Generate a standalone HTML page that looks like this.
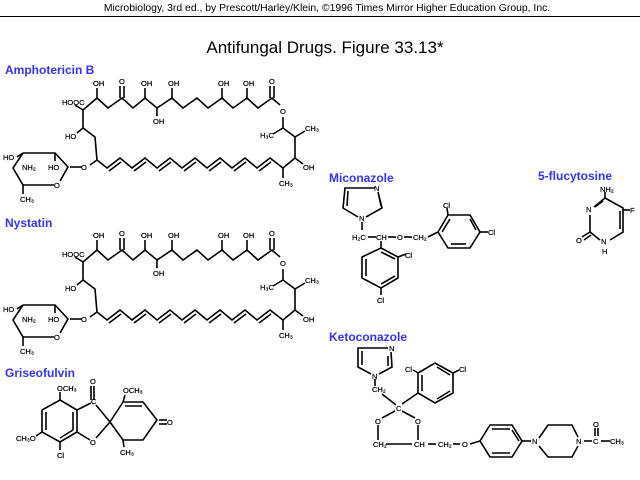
<!DOCTYPE html>
<html><head><meta charset="utf-8"><style>
html,body{margin:0;padding:0;background:#fff;}
svg{display:block;}
.l{font-family:"Liberation Sans",sans-serif;font-size:7.5px;fill:#000;stroke:#000;stroke-width:0.2px;}
.t{font-family:"Liberation Sans",sans-serif;font-weight:bold;font-size:12px;fill:#3333ff;}
</style></head><body>
<svg width="640" height="480" viewBox="0 0 640 480" xmlns="http://www.w3.org/2000/svg">
<text x="327" y="11" text-anchor="middle" font-family="Liberation Sans,sans-serif" font-size="10.4">Microbiology, 3rd ed., by Prescott/Harley/Klein, ©1996 Times Mirror Higher Education Group, Inc.</text>
<line x1="0" y1="16.5" x2="640" y2="16.5" stroke="#000" stroke-width="1"/>
<text x="325" y="53" text-anchor="middle" font-family="Liberation Sans,sans-serif" font-size="17">Antifungal Drugs.  Figure 33.13*</text>

<text class="t" x="5" y="74">Amphotericin B</text>
<text class="t" x="5" y="227">Nystatin</text>
<text class="t" x="5" y="377">Griseofulvin</text>
<text class="t" x="329" y="182">Miconazole</text>
<text class="t" x="538" y="180">5-flucytosine</text>
<text class="t" x="329" y="341">Ketoconazole</text>

<defs>
<g id="mac" fill="none" stroke="#000" stroke-width="1.6">
<polyline points="83,110 97,98 108,108 122,98 133,108 145,98 157,108 172,98 183,108 197,98 208,108 222,98 233,108 247,98 258,108 272,98 280,105"/>
<line x1="97" y1="98" x2="97" y2="88"/><line x1="120" y1="98" x2="120" y2="86"/><line x1="124" y1="98" x2="124" y2="86"/>
<line x1="145" y1="98" x2="145" y2="88"/><line x1="172" y1="98" x2="172" y2="88"/><line x1="157" y1="108" x2="157" y2="116"/>
<line x1="222" y1="98" x2="222" y2="88"/><line x1="247" y1="98" x2="247" y2="88"/>
<line x1="270" y1="98" x2="270" y2="86"/><line x1="274" y1="98" x2="274" y2="86"/>
<polyline points="283,117 283,128 295,137 295,158 283,168"/>
<line x1="283" y1="128" x2="273" y2="134"/><line x1="295" y1="137" x2="305" y2="131"/>
<line x1="295" y1="158" x2="303" y2="164"/><line x1="283" y1="168" x2="283" y2="178"/>
<line x1="83" y1="110" x2="75" y2="105"/>
<polyline points="83,110 83,128 95,137 97,160"/>
<line x1="83" y1="128" x2="77" y2="133"/>
<line x1="97" y1="160" x2="90" y2="165"/>
<line x1="82" y1="167" x2="70" y2="167"/>
<polyline points="97,160 107,168 120,158 132,168 145,158 157,168 170,158 182,168 195,158 207,168 220,158 232,168 245,158 257,168 270,158 283,168"/>
<line x1="109" y1="171" x2="121" y2="162"/><line x1="134" y1="171" x2="146" y2="162"/><line x1="159" y1="171" x2="171" y2="162"/>
<line x1="184" y1="171" x2="196" y2="162"/><line x1="209" y1="171" x2="221" y2="162"/><line x1="234" y1="171" x2="246" y2="162"/><line x1="259" y1="171" x2="271" y2="162"/>
<polyline points="23,153 55,153 68,167 60,181"/><polyline points="54,185 23,185 13,168 23,153"/>
<line x1="23" y1="153" x2="17" y2="157"/><line x1="23" y1="185" x2="23" y2="194"/><line x1="55" y1="153" x2="55" y2="161"/>
</g>
<g id="macl">
<text class="l" x="62" y="105">HOOC</text>
<text class="l" x="93" y="86">OH</text><text class="l" x="119" y="84">O</text><text class="l" x="141" y="86">OH</text>
<text class="l" x="168" y="86">OH</text><text class="l" x="153" y="124">OH</text><text class="l" x="218" y="86">OH</text>
<text class="l" x="243" y="86">OH</text><text class="l" x="269" y="84">O</text><text class="l" x="280" y="114">O</text>
<text class="l" x="260" y="138">H₃C</text><text class="l" x="305" y="131">CH₃</text><text class="l" x="303" y="170">OH</text>
<text class="l" x="279" y="186">CH₃</text><text class="l" x="65" y="139">HO</text><text class="l" x="81" y="170">O</text>
<text class="l" x="3" y="160">HO</text><text class="l" x="22" y="170">NH₂</text><text class="l" x="48" y="170">HO</text>
<text class="l" x="54" y="188">O</text><text class="l" x="20" y="202">CH₃</text>
</g>
</defs>
<use href="#mac"/><use href="#macl"/>
<g transform="translate(0,152)"><use href="#mac"/><use href="#macl"/></g>

<g fill="none" stroke="#000" stroke-width="1.6">
<polyline points="375,188 345,188 343,208 358,217"/><polyline points="366,217 382,208 378,192"/>
<line x1="348" y1="191" x2="347" y2="206"/><line x1="379" y1="196" x2="381" y2="206"/>
<line x1="362" y1="222" x2="362" y2="230"/>
<line x1="368" y1="237" x2="376" y2="237"/><line x1="388" y1="237" x2="396" y2="237"/><line x1="404" y1="237" x2="412" y2="237"/>
<line x1="428" y1="237" x2="438" y2="232"/>
<polygon points="438,232 448,215 470,215 480,232 470,248 448,248"/>
<line x1="450" y1="219" x2="442" y2="232"/><line x1="470" y1="219" x2="476" y2="230"/><line x1="466" y1="244" x2="451" y2="244"/>
<line x1="448" y1="215" x2="447" y2="208"/><line x1="480" y1="232" x2="488" y2="232"/>
<line x1="381" y1="241" x2="381" y2="248"/>
<polygon points="381,248 398,257 398,278 381,288 362,278 362,257"/>
<line x1="381" y1="252" x2="395" y2="259"/><line x1="366" y1="276" x2="366" y2="259"/><line x1="395" y1="276" x2="381" y2="284"/>
<line x1="398" y1="257" x2="406" y2="254"/><line x1="381" y1="288" x2="381" y2="295"/>
<polyline points="605,198 623,208 623,232 610,240"/><polyline points="600,240 590,232 590,215"/><line x1="594" y1="207" x2="605" y2="198"/>
<line x1="603" y1="201" x2="595" y2="207"/><line x1="620" y1="211" x2="620" y2="229"/>
<line x1="605" y1="198" x2="605" y2="192"/><line x1="623" y1="210" x2="630" y2="210"/>
<line x1="582" y1="237" x2="590" y2="232"/><line x1="584" y1="240" x2="591" y2="235"/>
<polyline points="388,348 358,348 358,367 371,374"/><polyline points="379,374 392,367 391,352"/>
<line x1="362" y1="351" x2="362" y2="365"/><line x1="388" y1="356" x2="388" y2="366"/>
<line x1="375" y1="379" x2="375" y2="386"/><line x1="382" y1="394" x2="396" y2="405"/>
<line x1="395" y1="411" x2="382" y2="418"/><line x1="402" y1="411" x2="415" y2="418"/>
<line x1="378" y1="425" x2="378" y2="440"/><line x1="418" y1="425" x2="418" y2="440"/>
<line x1="386" y1="444" x2="412" y2="444"/><line x1="428" y1="444" x2="436" y2="444"/><line x1="453" y1="444" x2="460" y2="444"/><line x1="470" y1="444" x2="480" y2="441"/>
<line x1="402" y1="404" x2="418" y2="393"/>
<polygon points="418,393 418,373 435,363 453,373 453,393 435,403"/>
<line x1="422" y1="391" x2="422" y2="375"/><line x1="437" y1="367" x2="450" y2="375"/><line x1="450" y1="391" x2="437" y2="399"/>
<line x1="418" y1="373" x2="413" y2="370"/><line x1="453" y1="373" x2="459" y2="370"/>
<polygon points="480,441 490,425 512,425 522,441 512,457 490,457"/>
<line x1="492" y1="429" x2="510" y2="429"/><line x1="492" y1="453" x2="510" y2="453"/><line x1="519" y1="441" x2="512" y2="430"/>
<line x1="522" y1="441" x2="531" y2="441"/>
<polyline points="539,438 548,425 572,425 578,437"/><polyline points="539,446 548,457 572,457 578,446"/>
<line x1="584" y1="441" x2="592" y2="441"/><line x1="601" y1="441" x2="610" y2="441"/>
<line x1="595" y1="436" x2="595" y2="428"/><line x1="598" y1="436" x2="598" y2="428"/>
<polygon points="60,400 77,410 77,432 60,442 42,432 42,410"/>
<line x1="46" y1="412" x2="46" y2="430"/><line x1="73" y1="412" x2="73" y2="430"/><line x1="60" y1="438" x2="73" y2="430"/>
<line x1="60" y1="400" x2="60" y2="392"/><line x1="42" y1="432" x2="36" y2="436"/><line x1="60" y1="442" x2="60" y2="450"/>
<line x1="77" y1="410" x2="91" y2="403"/><line x1="94" y1="400" x2="94" y2="386"/><line x1="91" y1="400" x2="91" y2="386"/>
<line x1="96" y1="405" x2="110" y2="422"/><line x1="110" y1="422" x2="96" y2="438"/><line x1="90" y1="440" x2="77" y2="432"/>
<polyline points="110,422 123,402 143,402 157,420 143,440 123,440 110,422"/>
<line x1="125" y1="406" x2="142" y2="406"/><line x1="123" y1="402" x2="125" y2="395"/>
<line x1="159" y1="420" x2="167" y2="420"/><line x1="159" y1="424" x2="167" y2="424"/><line x1="123" y1="440" x2="124" y2="447"/>
</g>
<g>
<text class="l" x="374" y="191">N</text><text class="l" x="359" y="221">N</text>
<text class="l" x="352" y="240">H₂C</text><text class="l" x="376" y="240">CH</text><text class="l" x="397" y="240">O</text><text class="l" x="413" y="240">CH₂</text>
<text class="l" x="443" y="208">Cl</text><text class="l" x="488" y="235">Cl</text><text class="l" x="405" y="258">Cl</text><text class="l" x="377" y="303">Cl</text>
<text class="l" x="600" y="192">NH₂</text><text class="l" x="630" y="213">F</text><text class="l" x="586" y="212">N</text>
<text class="l" x="576" y="243">O</text><text class="l" x="601" y="244">N</text><text class="l" x="602" y="254">H</text>
<text class="l" x="389" y="351">N</text><text class="l" x="372" y="379">N</text><text class="l" x="372" y="392">CH₂</text>
<text class="l" x="396" y="411">C</text><text class="l" x="375" y="424">O</text><text class="l" x="415" y="424">O</text>
<text class="l" x="373" y="447">CH₂</text><text class="l" x="414" y="447">CH</text><text class="l" x="438" y="447">CH₂</text><text class="l" x="462" y="447">O</text>
<text class="l" x="405" y="372">Cl</text><text class="l" x="459" y="372">Cl</text>
<text class="l" x="532" y="444">N</text><text class="l" x="576" y="444">N</text>
<text class="l" x="593" y="427">O</text><text class="l" x="593" y="444">C</text><text class="l" x="610" y="444">CH₃</text>
<text class="l" x="57" y="391">OCH₃</text><text class="l" x="90" y="384">O</text><text class="l" x="91" y="404">C</text>
<text class="l" x="123" y="393">OCH₃</text><text class="l" x="167" y="425">O</text><text class="l" x="90" y="445">O</text>
<text class="l" x="16" y="441">CH₃O</text><text class="l" x="57" y="458">Cl</text><text class="l" x="120" y="455">CH₃</text>
</g>
</svg>
</body></html>
